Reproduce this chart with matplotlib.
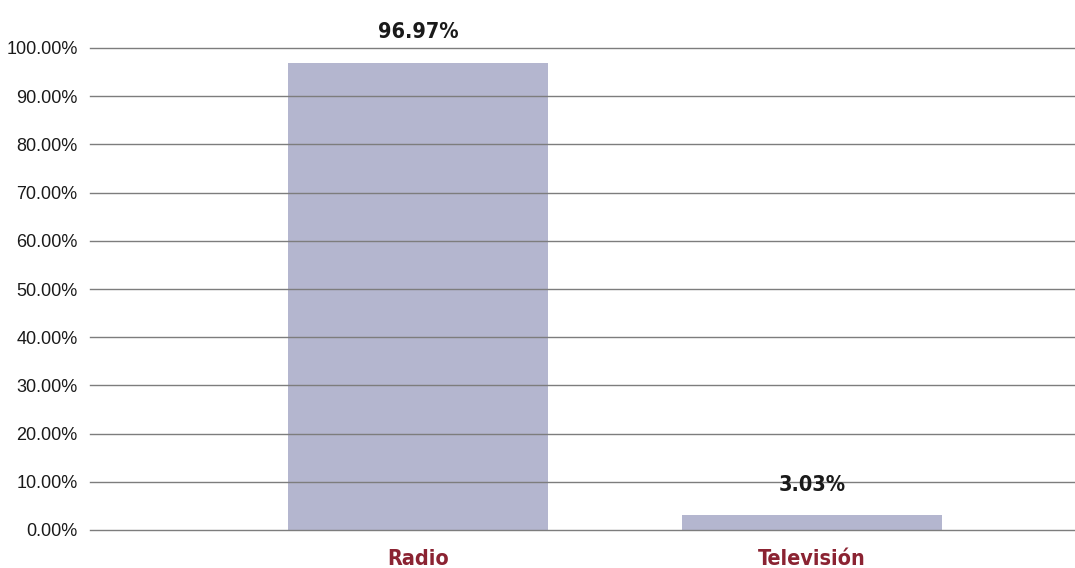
import matplotlib
matplotlib.use("Agg")
import matplotlib.pyplot as plt
from matplotlib.ticker import FuncFormatter

categories = ["Radio", "Televisión"]
shares = [96.97, 3.03]
yticks = [0, 10, 20, 30, 40, 50, 60, 70, 80, 90, 100]

bar_color = "#b4b6cf"
label_red = "#8b2332"

fig = plt.figure(figsize=(10.75, 5.68), dpi=100)
ax = fig.add_axes([90 / 1075, 38 / 568, 985 / 1075, 482 / 568])

x = list(range(len(categories)))
ax.bar(x, shares, width=0.66, color=bar_color, zorder=1)

# gridlines drawn over the bars, like the original
ax.set_yticks(yticks)
ax.yaxis.grid(True, color="#7d7d7d", linewidth=1.0, zorder=3)
ax.set_axisbelow(False)
for gl in ax.get_ygridlines():
    gl.set_clip_on(False)
ax.set_ylim(0, 100)
ax.set_xlim(-0.8325, 1.6675)
ax.yaxis.set_major_formatter(FuncFormatter(lambda v, _: f"{v:.2f}%"))
ax.tick_params(axis="y", length=0, pad=9, labelsize=13, labelcolor="#1a1a1a")
for lab in ax.get_yticklabels():
    lab.set_family("Liberation Sans")

ax.set_xticks(x)
ax.set_xticklabels(categories)
ax.tick_params(axis="x", length=0, pad=14)
for lab in ax.get_xticklabels():
    lab.set_family("DejaVu Sans")
    lab.set_stretch("condensed")
    lab.set_fontweight("bold")
    lab.set_fontsize(15.5)
    lab.set_color(label_red)

for spine in ax.spines.values():
    spine.set_visible(False)

for xi, v in zip(x, shares):
    ax.annotate(f"{v:.2f}%", (xi, v), xytext=(0, 15), textcoords="offset points",
                ha="center", va="bottom", fontsize=15.5, fontweight="bold",
                family="DejaVu Sans", stretch="condensed", color="#1a1a1a")

fig.savefig("out.png", dpi=100)
